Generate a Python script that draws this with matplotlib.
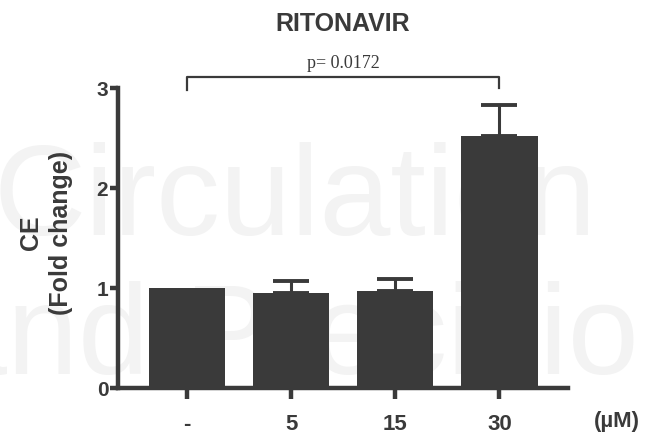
import matplotlib
matplotlib.use("Agg")
import matplotlib.pyplot as plt
import numpy as np

plt.rcParams['font.family'] = ['Liberation Sans', 'DejaVu Sans']

# doses (uM) and CE fold change
doses = ["-", "5", "15", "30"]
means = [1.0, 0.95, 0.97, 2.52]
sem = [0.0, 0.12, 0.12, 0.31]
p_text = "p= 0.0172"

dark = "#3a3a3a"

fig = plt.figure(figsize=(6.45, 4.43), dpi=100)

# faint watermark behind everything
fig.text(-0.01, 0.47, "Circulation", fontsize=92, color="#f3f3f3",
         ha="left", va="baseline", zorder=-1)
fig.text(-0.10, 0.155, "and Precision", fontsize=92, color="#f3f3f3",
         ha="left", va="baseline", zorder=-1)

ax = fig.add_axes([0.183, 0.124, 0.698, 0.677])
ax.patch.set_alpha(0)

x = np.arange(len(doses))
ax.bar(x, means, width=0.73, color=dark, zorder=2)
# only upper error bars, skip the control (no error)
has_err = np.array(sem) > 0
ax.errorbar(x[has_err], np.array(means)[has_err],
            yerr=[np.zeros(has_err.sum()), np.array(sem)[has_err]], fmt="none",
            ecolor=dark, elinewidth=2.2, capsize=13, capthick=2.8, zorder=1)

ax.set_xlim(-0.66, 3.66)
ax.set_ylim(0, 3)
ax.set_yticks([0, 1, 2, 3])
ax.set_xticks(x)
ax.set_xticklabels(doses)

for s in ["top", "right"]:
    ax.spines[s].set_visible(False)
for s in ["left", "bottom"]:
    ax.spines[s].set_linewidth(3.2)
    ax.spines[s].set_color(dark)

ax.tick_params(axis="both", width=3.2, length=6, color=dark, labelcolor=dark)
ax.tick_params(axis="x", length=8, pad=11, labelsize=16)
ax.tick_params(axis="y", pad=1, labelsize=15)
for lab in ax.get_xticklabels() + ax.get_yticklabels():
    lab.set_fontweight("bold")

fig.text(46 / 645, 1 - 233 / 443, "CE\n(Fold change)", fontsize=18,
         fontweight="bold", color=dark, rotation=90, ha="center",
         va="center", linespacing=1.3, multialignment="center")
fig.text(ax.get_position().x0 + ax.get_position().width / 2, 1 - 24 / 443,
         "RITONAVIR", fontsize=18, fontweight="bold", color=dark,
         ha="center", va="center")

# significance bracket
ax.plot([0, 0, 3, 3], [2.98, 3.11, 3.11, 3.0], color=dark, lw=1.6,
        clip_on=False)
ax.text(1.5, 3.16, p_text, family="Liberation Serif", fontsize=13,
        color=dark, ha="center", va="bottom")

fig.text(617 / 645, 1 - 421 / 443, "(\u00b5M)", fontsize=16,
         fontweight="bold", color=dark, ha="center", va="center")

fig.savefig("out.png", dpi=100)
